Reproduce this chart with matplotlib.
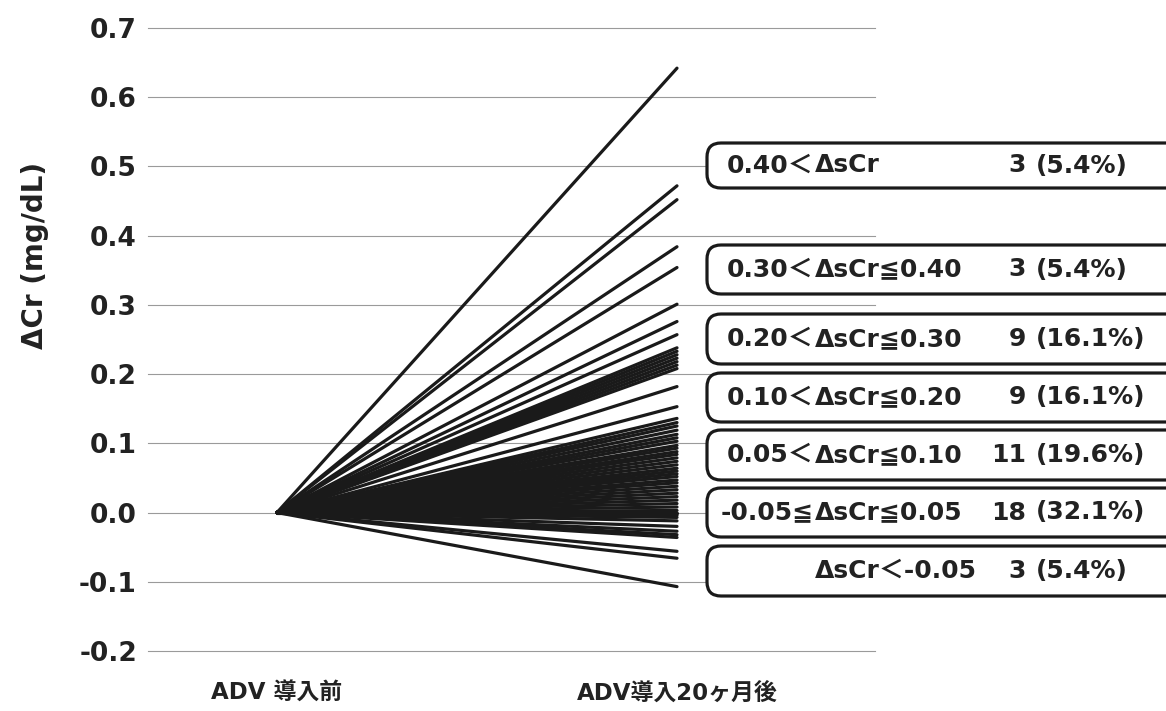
import matplotlib
matplotlib.use("Agg")
import matplotlib.pyplot as plt
from matplotlib.patches import FancyBboxPatch

plt.rcParams['font.family'] = ['DejaVu Sans', 'Noto Sans CJK JP']
plt.rcParams['font.weight'] = 'bold'

# change in serum creatinine for each patient (mg/dL)
vals_over40 = [0.642, 0.472, 0.452]
vals_30_40 = [0.384, 0.354, 0.301]
vals_20_30 = [0.276, 0.257, 0.238, 0.233, 0.228, 0.223, 0.218, 0.213, 0.208]
vals_10_20 = [0.182, 0.153, 0.136, 0.130, 0.125, 0.119, 0.113, 0.108, 0.103]
vals_05_10 = [0.097, 0.093, 0.088, 0.084, 0.079, 0.074, 0.069, 0.064, 0.060, 0.056, 0.052]
vals_mid = [0.047, 0.043, 0.038, 0.033, 0.028, 0.023, 0.018, 0.013, 0.008,
            0.003, 0.000, -0.004, -0.007, -0.012, -0.020, -0.027, -0.032, -0.036]
vals_under = [-0.056, -0.066, -0.107]

x_labels = ['ADV 導入前', 'ADV導入20ヶ月後']
yticks = [0.7, 0.6, 0.5, 0.4, 0.3, 0.2, 0.1, 0.0, -0.1, -0.2]

# box legend: lower bound part, "ΔsCr..." part, count, percent
lo_text = ['0.40＜', '0.30＜', '0.20＜', '0.10＜', '0.05＜', '-0.05≦', '']
hi_text = ['ΔsCr', 'ΔsCr≦0.40', 'ΔsCr≦0.30', 'ΔsCr≦0.20', 'ΔsCr≦0.10', 'ΔsCr≦0.05', 'ΔsCr＜-0.05']
counts = [3, 3, 9, 9, 11, 18, 3]
pcts = [5.4, 5.4, 16.1, 16.1, 19.6, 32.1, 5.4]

W, H = 1166, 711
fig = plt.figure(figsize=(W / 100, H / 100), dpi=100)
ax = fig.add_axes([148 / W, 1 - 651 / H, (875 - 148) / W, (651 - 28) / H])

all_vals = vals_over40 + vals_30_40 + vals_20_30 + vals_10_20 + vals_05_10 + vals_mid + vals_under
for v in all_vals:
    ax.plot([0, 1], [0, v], color='#1a1a1a', lw=2.3, solid_capstyle='round', zorder=3)

ax.set_xlim(-0.3225, 1.495)
ax.set_ylim(-0.2, 0.7)
ax.set_yticks(yticks)
ax.set_yticklabels([f'{t:.1f}' for t in yticks], fontsize=19, fontweight='bold', color='#222222')
ax.set_xticks([0, 1])
ax.set_xticklabels(x_labels, fontsize=16.5, fontweight='bold', color='#222222')
ax.tick_params(axis='both', length=0)
ax.tick_params(axis='y', pad=8)
ax.tick_params(axis='x', pad=22)
ax.grid(axis='y', color='#9a9a9a', lw=0.8)
for gl in ax.get_ygridlines():
    gl.set_clip_on(False)
ax.set_axisbelow(True)
for s in ax.spines.values():
    s.set_visible(False)

fig.text(35 / W, 1 - 255 / H, 'ΔCr (mg/dL)', rotation=90, fontsize=20, fontweight='bold',
         ha='center', va='center', color='#222222')

# boxes (pixel tops/bottoms)
box_top = [143, 245, 314, 373, 430, 488, 546]
box_bot = [188, 294, 364, 422, 480, 537, 596]
for i in range(len(counts)):
    x0, x1 = 707, 1185
    y0, y1 = box_top[i], box_bot[i]
    p = FancyBboxPatch((x0 / W, 1 - y1 / H), (x1 - x0) / W, (y1 - y0) / H,
                       boxstyle='round,pad=0,rounding_size=0.012',
                       transform=fig.transFigure, facecolor='white', edgecolor='#1a1a1a',
                       lw=2.3, zorder=5, mutation_aspect=W / H)
    fig.patches.append(p)
    yc = 1 - (y0 + y1) / 2 / H
    kw = dict(fontsize=18, fontweight='bold', va='center', color='#222222', zorder=6)
    fig.text(814 / W, yc, lo_text[i], ha='right', **kw)
    fig.text(815 / W, yc, hi_text[i], ha='left', **kw)
    fig.text(1026 / W, yc, str(counts[i]), ha='right', **kw)
    fig.text(1036 / W, yc, f'({pcts[i]}%)', ha='left', **kw)

fig.savefig('out.png', dpi=100, facecolor='white')
